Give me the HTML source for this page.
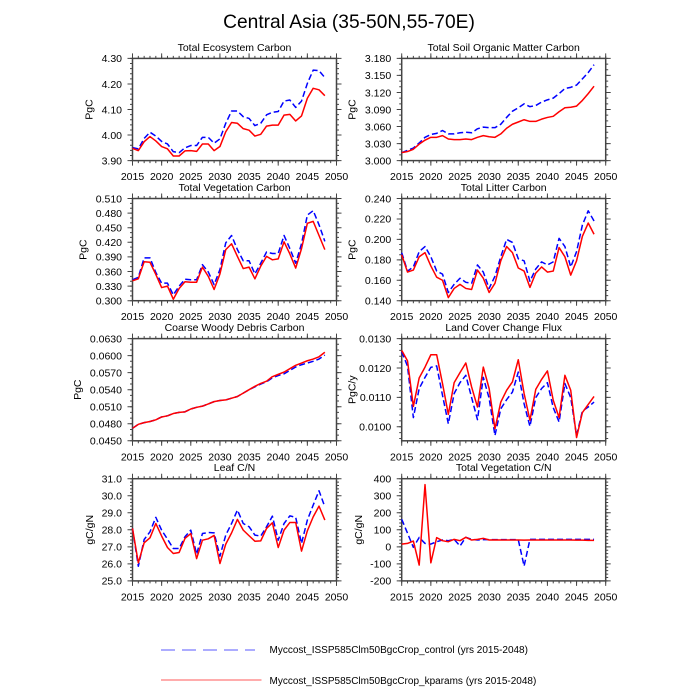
<!DOCTYPE html>
<html><head><meta charset="utf-8"><style>
html,body{margin:0;padding:0;background:#fff;}
svg{display:block;font-family:"Liberation Sans",Arial,sans-serif;}
.fr{fill:none;stroke:#444;stroke-width:1.5;}
.tk line{stroke:#444;}
.tl{font-size:10.5px;fill:#000;}
.yl{text-anchor:end;}
.xl{text-anchor:middle;}
.pt{font-size:10.5px;text-anchor:middle;}
.red{fill:none;stroke:#ff0000;stroke-width:1.5;stroke-linejoin:round;vector-effect:non-scaling-stroke;}
.blu{fill:none;stroke:#0000ff;stroke-width:1.5;stroke-dasharray:6 3;stroke-linejoin:round;vector-effect:non-scaling-stroke;}
</style></head><body>
<svg width="700" height="700" viewBox="0 0 700 700" xmlns="http://www.w3.org/2000/svg">
<rect width="700" height="700" fill="#fff"/>
<text x="349" y="28" font-size="19.2" text-anchor="middle">Central Asia (35-50N,55-70E)</text>

<!-- ============ Panel 1 ============ -->
<text class="pt" x="234.5" y="50.9">Total Ecosystem Carbon</text>
<g class="tk">
<line x1="132" y1="163.1" x2="337" y2="163.1" stroke-width="5" stroke-dasharray="1 28.1429"/>
<line x1="132" y1="161.85" x2="337" y2="161.85" stroke-width="2.5" stroke-dasharray="1 4.8286"/>
<line x1="132" y1="55.9" x2="337" y2="55.9" stroke-width="5" stroke-dasharray="1 28.1429"/>
<line x1="132" y1="57.15" x2="337" y2="57.15" stroke-width="2.5" stroke-dasharray="1 4.8286"/>
<line x1="130" y1="57.9" x2="130" y2="161.1" stroke-width="5" stroke-dasharray="1 24.55"/>
<line x1="131.25" y1="57.9" x2="131.25" y2="161.1" stroke-width="2.5" stroke-dasharray="1 4.11"/>
<line x1="339" y1="57.9" x2="339" y2="161.1" stroke-width="5" stroke-dasharray="1 24.55"/>
<line x1="337.75" y1="57.9" x2="337.75" y2="161.1" stroke-width="2.5" stroke-dasharray="1 4.11"/>
</g>
<rect class="fr" x="132.5" y="58.4" width="204" height="102.2"/>
<g class="tl yl">
<text x="122" y="62.2">4.30</text><text x="122" y="87.75">4.20</text><text x="122" y="113.3">4.10</text><text x="122" y="138.85">4.00</text><text x="122" y="164.4">3.90</text>
</g>
<g class="tl xl">
<text x="132.5" y="180.1">2015</text><text x="161.64" y="180.1">2020</text><text x="190.79" y="180.1">2025</text><text x="219.93" y="180.1">2030</text><text x="249.07" y="180.1">2035</text><text x="278.21" y="180.1">2040</text><text x="307.36" y="180.1">2045</text><text x="336.5" y="180.1">2050</text>
</g>
<text class="tl" text-anchor="middle" transform="translate(92.3,109.5) rotate(-90)">PgC</text>
<g transform="translate(132.5,1157.05) scale(5.82857,-255.5)">
<polyline class="blu" points="0,3.951 1,3.946 2,3.987 3,4.011 4,3.996 5,3.975 6,3.965 7,3.935 8,3.931 9,3.950 10,3.959 11,3.959 12,3.991 13,3.991 14,3.968 15,3.985 16,4.046 17,4.094 18,4.094 19,4.072 20,4.065 21,4.037 22,4.046 23,4.079 24,4.089 25,4.092 26,4.133 27,4.137 28,4.108 29,4.133 30,4.202 31,4.254 32,4.252 33,4.225"/>
<polyline class="red" points="0,3.948 1,3.939 2,3.974 3,3.994 4,3.977 5,3.955 6,3.946 7,3.918 8,3.918 9,3.938 10,3.939 11,3.936 12,3.965 13,3.965 14,3.939 15,3.955 16,4.013 17,4.049 18,4.046 19,4.025 20,4.019 21,3.996 22,4.003 23,4.035 24,4.039 25,4.039 26,4.078 27,4.081 28,4.055 29,4.075 30,4.144 31,4.183 32,4.177 33,4.154"/>
</g>

<!-- ============ Panel 2 ============ -->
<text class="pt" x="503.7" y="50.9">Total Soil Organic Matter Carbon</text>
<g class="tk">
<line x1="401.2" y1="163.1" x2="606.2" y2="163.1" stroke-width="5" stroke-dasharray="1 28.1429"/>
<line x1="401.2" y1="161.85" x2="606.2" y2="161.85" stroke-width="2.5" stroke-dasharray="1 4.8286"/>
<line x1="401.2" y1="55.9" x2="606.2" y2="55.9" stroke-width="5" stroke-dasharray="1 28.1429"/>
<line x1="401.2" y1="57.15" x2="606.2" y2="57.15" stroke-width="2.5" stroke-dasharray="1 4.8286"/>
<line x1="399.2" y1="57.9" x2="399.2" y2="161.1" stroke-width="5" stroke-dasharray="1 16.033"/>
<line x1="400.45" y1="57.9" x2="400.45" y2="161.1" stroke-width="2.5" stroke-dasharray="1 4.678"/>
<line x1="608.2" y1="57.9" x2="608.2" y2="161.1" stroke-width="5" stroke-dasharray="1 16.033"/>
<line x1="606.95" y1="57.9" x2="606.95" y2="161.1" stroke-width="2.5" stroke-dasharray="1 4.678"/>
</g>
<rect class="fr" x="401.7" y="58.4" width="204" height="102.2"/>
<g class="tl yl">
<text x="391.2" y="62.2">3.180</text><text x="391.2" y="79.23">3.150</text><text x="391.2" y="96.27">3.120</text><text x="391.2" y="113.3">3.090</text><text x="391.2" y="130.33">3.060</text><text x="391.2" y="147.37">3.030</text><text x="391.2" y="164.4">3.000</text>
</g>
<g class="tl xl">
<text x="401.7" y="180.1">2015</text><text x="430.84" y="180.1">2020</text><text x="459.99" y="180.1">2025</text><text x="489.13" y="180.1">2030</text><text x="518.27" y="180.1">2035</text><text x="547.41" y="180.1">2040</text><text x="576.56" y="180.1">2045</text><text x="605.7" y="180.1">2050</text>
</g>
<text class="tl" text-anchor="middle" transform="translate(355.6,109.5) rotate(-90)">PgC</text>
<g transform="translate(401.7,1863.933) scale(5.82857,-567.778)">
<polyline class="blu" points="0,3.014 1,3.018 2,3.022 3,3.031 4,3.041 5,3.046 6,3.048 7,3.053 8,3.047 9,3.047 10,3.049 11,3.050 12,3.049 13,3.056 14,3.059 15,3.058 16,3.058 17,3.064 18,3.076 19,3.087 20,3.093 21,3.100 22,3.095 23,3.097 24,3.103 25,3.107 26,3.110 27,3.118 28,3.127 29,3.129 30,3.133 31,3.144 32,3.155 33,3.169"/>
<polyline class="red" points="0,3.014 1,3.016 2,3.020 3,3.029 4,3.036 5,3.041 6,3.041 7,3.044 8,3.038 9,3.037 10,3.037 11,3.038 12,3.037 13,3.041 14,3.044 15,3.042 16,3.041 17,3.047 18,3.057 19,3.064 20,3.068 21,3.072 22,3.069 23,3.069 24,3.073 25,3.076 26,3.078 27,3.086 28,3.093 29,3.094 30,3.096 31,3.106 32,3.118 33,3.131"/>
</g>

<!-- ============ Panel 3 ============ -->
<text class="pt" x="234.5" y="191">Total Vegetation Carbon</text>
<g class="tk">
<line x1="132" y1="303.2" x2="337" y2="303.2" stroke-width="5" stroke-dasharray="1 28.1429"/>
<line x1="132" y1="301.95" x2="337" y2="301.95" stroke-width="2.5" stroke-dasharray="1 4.8286"/>
<line x1="132" y1="196" x2="337" y2="196" stroke-width="5" stroke-dasharray="1 28.1429"/>
<line x1="132" y1="197.25" x2="337" y2="197.25" stroke-width="2.5" stroke-dasharray="1 4.8286"/>
<line x1="130" y1="198" x2="130" y2="301.2" stroke-width="5" stroke-dasharray="1 13.6"/>
<line x1="131.25" y1="198" x2="131.25" y2="301.2" stroke-width="2.5" stroke-dasharray="1 3.8667"/>
<line x1="339" y1="198" x2="339" y2="301.2" stroke-width="5" stroke-dasharray="1 13.6"/>
<line x1="337.75" y1="198" x2="337.75" y2="301.2" stroke-width="2.5" stroke-dasharray="1 3.8667"/>
</g>
<rect class="fr" x="132.5" y="198.5" width="204" height="102.2"/>
<g class="tl yl">
<text x="122" y="202.3">0.510</text><text x="122" y="216.9">0.480</text><text x="122" y="231.5">0.450</text><text x="122" y="246.1">0.420</text><text x="122" y="260.7">0.390</text><text x="122" y="275.3">0.360</text><text x="122" y="289.9">0.330</text><text x="122" y="304.5">0.300</text>
</g>
<g class="tl xl">
<text x="132.5" y="320.2">2015</text><text x="161.64" y="320.2">2020</text><text x="190.79" y="320.2">2025</text><text x="219.93" y="320.2">2030</text><text x="249.07" y="320.2">2035</text><text x="278.21" y="320.2">2040</text><text x="307.36" y="320.2">2045</text><text x="336.5" y="320.2">2050</text>
</g>
<text class="tl" text-anchor="middle" transform="translate(86.5,249.6) rotate(-90)">PgC</text>
<g transform="translate(132.5,446.7) scale(5.82857,-486.667)">
<polyline class="blu" points="0,0.343 1,0.348 2,0.388 3,0.388 4,0.358 5,0.336 6,0.336 7,0.312 8,0.330 9,0.344 10,0.343 11,0.343 12,0.374 13,0.359 14,0.333 15,0.364 16,0.419 17,0.434 18,0.405 19,0.382 20,0.382 21,0.355 22,0.377 23,0.400 24,0.397 25,0.397 26,0.434 27,0.407 28,0.377 29,0.417 30,0.476 31,0.485 32,0.456 33,0.422"/>
<polyline class="red" points="0,0.341 1,0.345 2,0.380 3,0.379 4,0.354 5,0.327 6,0.330 7,0.303 8,0.325 9,0.339 10,0.338 11,0.338 12,0.369 13,0.350 14,0.323 15,0.355 16,0.405 17,0.417 18,0.391 19,0.366 20,0.369 21,0.345 22,0.371 23,0.391 24,0.384 25,0.386 26,0.421 27,0.396 28,0.367 29,0.407 30,0.459 31,0.463 32,0.434 33,0.405"/>
</g>

<!-- ============ Panel 4 ============ -->
<text class="pt" x="503.7" y="191">Total Litter Carbon</text>
<g class="tk">
<line x1="401.2" y1="303.2" x2="606.2" y2="303.2" stroke-width="5" stroke-dasharray="1 28.1429"/>
<line x1="401.2" y1="301.95" x2="606.2" y2="301.95" stroke-width="2.5" stroke-dasharray="1 4.8286"/>
<line x1="401.2" y1="196" x2="606.2" y2="196" stroke-width="5" stroke-dasharray="1 28.1429"/>
<line x1="401.2" y1="197.25" x2="606.2" y2="197.25" stroke-width="2.5" stroke-dasharray="1 4.8286"/>
<line x1="399.2" y1="198" x2="399.2" y2="301.2" stroke-width="5" stroke-dasharray="1 19.44"/>
<line x1="400.45" y1="198" x2="400.45" y2="301.2" stroke-width="2.5" stroke-dasharray="1 4.11"/>
<line x1="608.2" y1="198" x2="608.2" y2="301.2" stroke-width="5" stroke-dasharray="1 19.44"/>
<line x1="606.95" y1="198" x2="606.95" y2="301.2" stroke-width="2.5" stroke-dasharray="1 4.11"/>
</g>
<rect class="fr" x="401.7" y="198.5" width="204" height="102.2"/>
<g class="tl yl">
<text x="391.2" y="202.3">0.240</text><text x="391.2" y="222.74">0.220</text><text x="391.2" y="243.18">0.200</text><text x="391.2" y="263.62">0.180</text><text x="391.2" y="284.06">0.160</text><text x="391.2" y="304.5">0.140</text>
</g>
<g class="tl xl">
<text x="401.7" y="320.2">2015</text><text x="430.84" y="320.2">2020</text><text x="459.99" y="320.2">2025</text><text x="489.13" y="320.2">2030</text><text x="518.27" y="320.2">2035</text><text x="547.41" y="320.2">2040</text><text x="576.56" y="320.2">2045</text><text x="605.7" y="320.2">2050</text>
</g>
<text class="tl" text-anchor="middle" transform="translate(355.7,249.6) rotate(-90)">PgC</text>
<g transform="translate(401.7,443.78) scale(5.82857,-1022)">
<polyline class="blu" points="0,0.187 1,0.169 2,0.173 3,0.188 4,0.193 5,0.183 6,0.169 7,0.166 8,0.148 9,0.156 10,0.162 11,0.158 12,0.157 13,0.175 14,0.168 15,0.152 16,0.164 17,0.183 18,0.200 19,0.197 20,0.181 21,0.179 22,0.159 23,0.171 24,0.178 25,0.175 26,0.178 27,0.201 28,0.193 29,0.173 30,0.188 31,0.214 32,0.228 33,0.218"/>
<polyline class="red" points="0,0.185 1,0.168 2,0.170 3,0.183 4,0.187 5,0.174 6,0.163 7,0.160 8,0.143 9,0.152 10,0.156 11,0.152 12,0.151 13,0.170 14,0.162 15,0.148 16,0.157 17,0.179 18,0.193 19,0.187 20,0.172 21,0.169 22,0.153 23,0.167 24,0.173 25,0.168 26,0.169 27,0.192 28,0.183 29,0.165 30,0.179 31,0.203 32,0.216 33,0.205"/>
</g>

<!-- ============ Panel 5 ============ -->
<text class="pt" x="234.5" y="331.1">Coarse Woody Debris Carbon</text>
<g class="tk">
<line x1="132" y1="443.3" x2="337" y2="443.3" stroke-width="5" stroke-dasharray="1 28.1429"/>
<line x1="132" y1="442.05" x2="337" y2="442.05" stroke-width="2.5" stroke-dasharray="1 4.8286"/>
<line x1="132" y1="336.1" x2="337" y2="336.1" stroke-width="5" stroke-dasharray="1 28.1429"/>
<line x1="132" y1="337.35" x2="337" y2="337.35" stroke-width="2.5" stroke-dasharray="1 4.8286"/>
<line x1="130" y1="338.1" x2="130" y2="441.3" stroke-width="5" stroke-dasharray="1 16.033"/>
<line x1="131.25" y1="338.1" x2="131.25" y2="441.3" stroke-width="2.5" stroke-dasharray="1 4.678"/>
<line x1="339" y1="338.1" x2="339" y2="441.3" stroke-width="5" stroke-dasharray="1 16.033"/>
<line x1="337.75" y1="338.1" x2="337.75" y2="441.3" stroke-width="2.5" stroke-dasharray="1 4.678"/>
</g>
<rect class="fr" x="132.5" y="338.6" width="204" height="102.2"/>
<g class="tl yl">
<text x="122" y="342.4">0.0630</text><text x="122" y="359.43">0.0600</text><text x="122" y="376.47">0.0570</text><text x="122" y="393.5">0.0540</text><text x="122" y="410.53">0.0510</text><text x="122" y="427.57">0.0480</text><text x="122" y="444.6">0.0450</text>
</g>
<g class="tl xl">
<text x="132.5" y="460.3">2015</text><text x="161.64" y="460.3">2020</text><text x="190.79" y="460.3">2025</text><text x="219.93" y="460.3">2030</text><text x="249.07" y="460.3">2035</text><text x="278.21" y="460.3">2040</text><text x="307.36" y="460.3">2045</text><text x="336.5" y="460.3">2050</text>
</g>
<text class="tl" text-anchor="middle" transform="translate(80.8,389.7) rotate(-90)">PgC</text>
<g transform="translate(132.5,696.3) scale(5.82857,-5677.78)">
<polyline class="blu" points="0,0.0472 1,0.0479 2,0.0482 3,0.0484 4,0.0487 5,0.0492 6,0.0494 7,0.0498 8,0.0500 9,0.0501 10,0.0506 11,0.0509 12,0.0511 13,0.0515 14,0.0519 15,0.0521 16,0.0522 17,0.0525 18,0.0528 19,0.0534 20,0.0540 21,0.0545 22,0.0550 23,0.0554 24,0.0561 25,0.0565 26,0.0568 27,0.0574 28,0.0580 29,0.0584 30,0.0587 31,0.0590 32,0.0594 33,0.0601"/>
<polyline class="red" points="0,0.0472 1,0.0479 2,0.0482 3,0.0484 4,0.0487 5,0.0492 6,0.0494 7,0.0498 8,0.0500 9,0.0501 10,0.0506 11,0.0509 12,0.0511 13,0.0515 14,0.0519 15,0.0521 16,0.0522 17,0.0525 18,0.0528 19,0.0534 20,0.0540 21,0.0546 22,0.0551 23,0.0555 24,0.0563 25,0.0567 26,0.0571 27,0.0577 28,0.0583 29,0.0587 30,0.0591 31,0.0594 32,0.0598 33,0.0606"/>
</g>

<!-- ============ Panel 6 ============ -->
<text class="pt" x="503.7" y="331.1">Land Cover Change Flux</text>
<g class="tk">
<line x1="401.2" y1="443.3" x2="606.2" y2="443.3" stroke-width="5" stroke-dasharray="1 28.1429"/>
<line x1="401.2" y1="442.05" x2="606.2" y2="442.05" stroke-width="2.5" stroke-dasharray="1 4.8286"/>
<line x1="401.2" y1="336.1" x2="606.2" y2="336.1" stroke-width="5" stroke-dasharray="1 28.1429"/>
<line x1="401.2" y1="337.35" x2="606.2" y2="337.35" stroke-width="2.5" stroke-dasharray="1 4.8286"/>
<line x1="399.2" y1="338.1" x2="399.2" y2="441.3" stroke-width="5" stroke-dasharray="1 28.368"/>
<line x1="400.45" y1="338.1" x2="400.45" y2="441.3" stroke-width="2.5" stroke-dasharray="1 4.8736"/>
<line x1="608.2" y1="338.1" x2="608.2" y2="441.3" stroke-width="5" stroke-dasharray="1 28.368"/>
<line x1="606.95" y1="338.1" x2="606.95" y2="441.3" stroke-width="2.5" stroke-dasharray="1 4.8736"/>
</g>
<rect class="fr" x="401.7" y="338.6" width="204" height="102.2"/>
<g class="tl yl">
<text x="391.2" y="342.4">0.0130</text><text x="391.2" y="371.77">0.0120</text><text x="391.2" y="401.14">0.0110</text><text x="391.2" y="430.5">0.0100</text>
</g>
<g class="tl xl">
<text x="401.7" y="460.3">2015</text><text x="430.84" y="460.3">2020</text><text x="459.99" y="460.3">2025</text><text x="489.13" y="460.3">2030</text><text x="518.27" y="460.3">2035</text><text x="547.41" y="460.3">2040</text><text x="576.56" y="460.3">2045</text><text x="605.7" y="460.3">2050</text>
</g>
<text class="tl" text-anchor="middle" transform="translate(355.3,389.7) rotate(-90)">PgC/y</text>
<g transform="translate(401.7,720.38) scale(5.82857,-29367.8)">
<polyline class="blu" points="0,0.01255 1,0.01206 2,0.01031 3,0.01130 4,0.01168 5,0.01202 6,0.01207 7,0.01107 8,0.01010 9,0.01113 10,0.01150 11,0.01175 12,0.01099 13,0.01024 14,0.01168 15,0.01097 16,0.00970 17,0.01061 18,0.01092 19,0.01118 20,0.01186 21,0.01078 22,0.01001 23,0.01099 24,0.01130 25,0.01150 26,0.01065 27,0.01016 28,0.01147 29,0.01099 30,0.00970 31,0.01053 32,0.01067 33,0.01084"/>
<polyline class="red" points="0,0.01260 1,0.01224 2,0.01069 3,0.01166 4,0.01203 5,0.01245 6,0.01245 7,0.01147 8,0.01042 9,0.01150 10,0.01184 11,0.01217 12,0.01135 13,0.01067 14,0.01203 15,0.01130 16,0.00993 17,0.01084 18,0.01124 19,0.01153 20,0.01228 21,0.01113 22,0.01022 23,0.01127 24,0.01161 25,0.01190 26,0.01090 27,0.01031 28,0.01175 29,0.01124 30,0.00963 31,0.01048 32,0.01076 33,0.01103"/>
</g>

<!-- ============ Panel 7 ============ -->
<text class="pt" x="234.5" y="471.2">Leaf C/N</text>
<g class="tk">
<line x1="132" y1="583.4" x2="337" y2="583.4" stroke-width="5" stroke-dasharray="1 28.1429"/>
<line x1="132" y1="582.15" x2="337" y2="582.15" stroke-width="2.5" stroke-dasharray="1 4.8286"/>
<line x1="132" y1="476.2" x2="337" y2="476.2" stroke-width="5" stroke-dasharray="1 28.1429"/>
<line x1="132" y1="477.45" x2="337" y2="477.45" stroke-width="2.5" stroke-dasharray="1 4.8286"/>
<line x1="130" y1="478.2" x2="130" y2="581.4" stroke-width="5" stroke-dasharray="1 16.033"/>
<line x1="131.25" y1="478.2" x2="131.25" y2="581.4" stroke-width="2.5" stroke-dasharray="1 2.4067"/>
<line x1="339" y1="478.2" x2="339" y2="581.4" stroke-width="5" stroke-dasharray="1 16.033"/>
<line x1="337.75" y1="478.2" x2="337.75" y2="581.4" stroke-width="2.5" stroke-dasharray="1 2.4067"/>
</g>
<rect class="fr" x="132.5" y="478.7" width="204" height="102.2"/>
<g class="tl yl">
<text x="122" y="482.5">31.0</text><text x="122" y="499.53">30.0</text><text x="122" y="516.57">29.0</text><text x="122" y="533.6">28.0</text><text x="122" y="550.63">27.0</text><text x="122" y="567.67">26.0</text><text x="122" y="584.7">25.0</text>
</g>
<g class="tl xl">
<text x="132.5" y="600.4">2015</text><text x="161.64" y="600.4">2020</text><text x="190.79" y="600.4">2025</text><text x="219.93" y="600.4">2030</text><text x="249.07" y="600.4">2035</text><text x="278.21" y="600.4">2040</text><text x="307.36" y="600.4">2045</text><text x="336.5" y="600.4">2050</text>
</g>
<text class="tl" text-anchor="middle" transform="translate(93,529.8) rotate(-90)">gC/gN</text>
<g transform="translate(132.5,1006.73) scale(5.82857,-17.0333)">
<polyline class="blu" points="0,28.08 1,25.86 2,27.43 3,27.88 4,28.73 5,27.98 6,27.45 7,26.90 8,26.90 9,27.59 10,27.98 11,26.57 12,27.78 13,27.84 14,27.82 15,26.45 16,27.69 17,28.37 18,29.16 19,28.37 20,28.18 21,27.69 22,27.63 23,28.18 24,28.80 25,27.39 26,28.37 27,28.82 28,28.73 29,27.20 30,28.57 31,29.45 32,30.29 33,29.35"/>
<polyline class="red" points="0,28.08 1,26.06 2,27.24 3,27.53 4,28.37 5,27.63 6,26.96 7,26.61 8,26.67 9,27.49 10,27.78 11,26.31 12,27.39 13,27.47 14,27.67 15,26.02 16,27.16 17,27.82 18,28.61 19,27.98 20,27.65 21,27.33 22,27.35 23,28.08 24,28.41 25,26.96 26,27.98 27,28.43 28,28.43 29,26.75 30,27.94 31,28.76 32,29.39 33,28.57"/>
</g>

<!-- ============ Panel 8 ============ -->
<text class="pt" x="503.7" y="471.2">Total Vegetation C/N</text>
<g class="tk">
<line x1="401.2" y1="583.4" x2="606.2" y2="583.4" stroke-width="5" stroke-dasharray="1 28.1429"/>
<line x1="401.2" y1="582.15" x2="606.2" y2="582.15" stroke-width="2.5" stroke-dasharray="1 4.8286"/>
<line x1="401.2" y1="476.2" x2="606.2" y2="476.2" stroke-width="5" stroke-dasharray="1 28.1429"/>
<line x1="401.2" y1="477.45" x2="606.2" y2="477.45" stroke-width="2.5" stroke-dasharray="1 4.8286"/>
<line x1="399.2" y1="478.2" x2="399.2" y2="581.4" stroke-width="5" stroke-dasharray="1 16.033"/>
<line x1="400.45" y1="478.2" x2="400.45" y2="581.4" stroke-width="2.5" stroke-dasharray="1 2.4067"/>
<line x1="608.2" y1="478.2" x2="608.2" y2="581.4" stroke-width="5" stroke-dasharray="1 16.033"/>
<line x1="606.95" y1="478.2" x2="606.95" y2="581.4" stroke-width="2.5" stroke-dasharray="1 2.4067"/>
</g>
<rect class="fr" x="401.7" y="478.7" width="204" height="102.2"/>
<g class="tl yl">
<text x="391.2" y="482.5">400</text><text x="391.2" y="499.53">300</text><text x="391.2" y="516.57">200</text><text x="391.2" y="533.6">100</text><text x="391.2" y="550.63">0</text><text x="391.2" y="567.67">-100</text><text x="391.2" y="584.7">-200</text>
</g>
<g class="tl xl">
<text x="401.7" y="600.4">2015</text><text x="430.84" y="600.4">2020</text><text x="459.99" y="600.4">2025</text><text x="489.13" y="600.4">2030</text><text x="518.27" y="600.4">2035</text><text x="547.41" y="600.4">2040</text><text x="576.56" y="600.4">2045</text><text x="605.7" y="600.4">2050</text>
</g>
<text class="tl" text-anchor="middle" transform="translate(361.8,529.8) rotate(-90)">gC/gN</text>
<g transform="translate(401.7,546.83) scale(5.82857,-0.170333)">
<polyline class="blu" points="0,162 1,80 2,-3 3,55 4,20 5,16 6,30 7,40 8,36 9,44 10,5 11,56 12,44 13,40 14,42 15,42 16,42 17,42 18,42 19,42 20,42 21,-113 22,44 23,44 24,44 25,44 26,44 27,44 28,44 29,44 30,44 31,44 32,44 33,44"/>
<polyline class="red" points="0,16 1,20 2,34 3,-107 4,365 5,-94 6,54 7,36 8,30 9,44 10,36 11,56 12,40 13,44 14,50 15,40 16,41 17,40 18,40 19,40 20,40 21,39 22,40 23,40 24,40 25,40 26,40 27,40 28,40 29,40 30,39 31,39 32,38 33,38"/>
</g>

<!-- ============ Legend ============ -->
<line x1="161" y1="650" x2="255" y2="650" stroke="#5a5aff" stroke-width="1" stroke-dasharray="14 7"/>
<text x="269.5" y="653" font-size="10">Myccost_ISSP585Clm50BgcCrop_control (yrs 2015-2048)</text>
<line x1="161" y1="680" x2="261.5" y2="680" stroke="#ff5a5a" stroke-width="1"/>
<text x="269.5" y="684" font-size="10">Myccost_ISSP585Clm50BgcCrop_kparams (yrs 2015-2048)</text>
</svg>
</body></html>
